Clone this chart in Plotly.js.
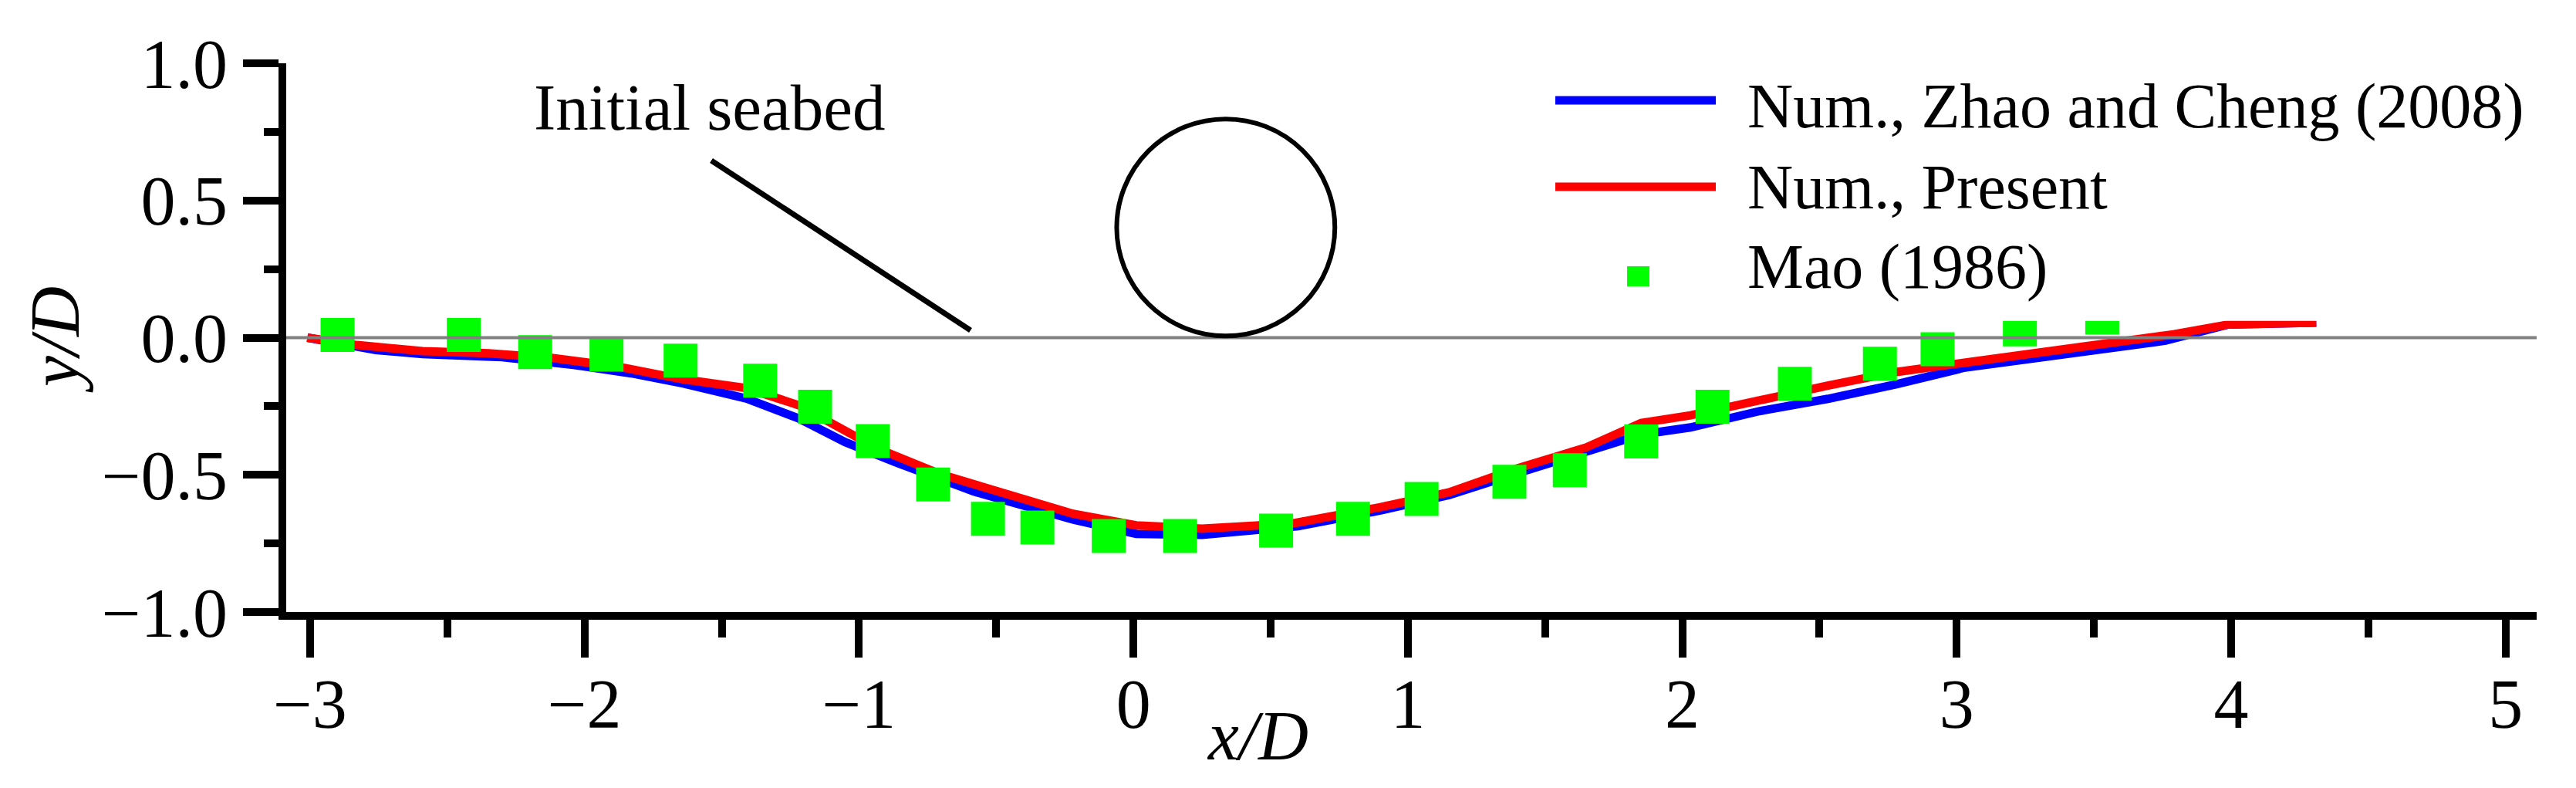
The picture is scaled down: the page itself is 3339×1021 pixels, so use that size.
<!DOCTYPE html>
<html>
<head>
<meta charset="utf-8">
<script src="https://cdn.plot.ly/plotly-3.0.1.min.js"></script>
<style>html,body{margin:0;padding:0;background:#fff;}#chart{width:3339px;height:1021px;}</style>
</head>
<body>
<div id="chart"></div>
<script>
// ---- data ----
const zhaoX = [-3.01, -2.76, -2.59, -2.30, -2.04, -1.83, -1.64, -1.41, -1.22, -1.05, -0.86, -0.58, -0.22, 0.01, 0.25, 0.60, 0.90, 1.15, 1.40, 1.65, 1.85, 2.03, 2.28, 2.53, 2.78, 3.03, 3.28, 3.54, 3.76, 3.99, 4.31];
const zhaoY = [0.0, -0.045, -0.060, -0.071, -0.099, -0.130, -0.167, -0.222, -0.294, -0.381, -0.457, -0.561, -0.663, -0.715, -0.719, -0.687, -0.630, -0.574, -0.494, -0.419, -0.353, -0.327, -0.268, -0.223, -0.170, -0.109, -0.074, -0.039, -0.011, 0.048, 0.055];

const presentX = [-3.01, -2.83, -2.59, -2.35, -2.12, -1.88, -1.64, -1.41, -1.22, -1.10, -0.93, -0.70, -0.46, -0.22, 0.01, 0.25, 0.58, 0.90, 1.15, 1.40, 1.65, 1.85, 2.03, 2.28, 2.53, 2.78, 3.03, 3.28, 3.54, 3.79, 3.99, 4.31];
const presentY = [0.0, -0.027, -0.049, -0.057, -0.074, -0.105, -0.152, -0.184, -0.246, -0.313, -0.405, -0.499, -0.574, -0.642, -0.684, -0.696, -0.677, -0.618, -0.564, -0.476, -0.400, -0.311, -0.283, -0.226, -0.175, -0.125, -0.091, -0.063, -0.025, 0.012, 0.048, 0.055];

const maoX = [-2.90, -2.44, -2.18, -1.92, -1.65, -1.36, -1.16, -0.95, -0.73, -0.53, -0.35, -0.09, 0.17, 0.52, 0.80, 1.05, 1.37, 1.59, 1.85, 2.11, 2.41, 2.72, 2.93, 3.23, 3.53];
const maoY = [0.010, 0.010, -0.053, -0.062, -0.084, -0.157, -0.252, -0.377, -0.535, -0.660, -0.692, -0.723, -0.723, -0.703, -0.660, -0.588, -0.525, -0.483, -0.378, -0.252, -0.168, -0.095, -0.042, 0.030, 0.073];

const seriesNames = ["Num., Zhao and Cheng (2008)", "Num., Present", "Mao (1986)"];
const xTickVals = [-3, -2, -1, 0, 1, 2, 3, 4, 5];
const yTickVals = [-1.0, -0.5, 0.0, 0.5, 1.0];

// ---- layout geometry ----
const W = 3339, H = 1021;
const M = {l: 371, r: 51, t: 82, b: 228};
const plotW = W - M.l - M.r, plotH = H - M.t - M.b;
const xRange = [-3.087, 5.113], yRange = [-1, 1];
const px2paper = px => (px - M.l) / plotW;
const py2paper = py => (H - M.b - py) / plotH;

const serif = "'Liberation Serif', 'Times New Roman', serif";

const traces = [
  {x: zhaoX, y: zhaoY, name: seriesNames[0], type: 'scatter', mode: 'lines',
   line: {color: '#0000ff', width: 11}, showlegend: false},
  {x: presentX, y: presentY, name: seriesNames[1], type: 'scatter', mode: 'lines',
   line: {color: '#ff0000', width: 11}, showlegend: false},
  {x: maoX, y: maoY, name: seriesNames[2], type: 'scatter', mode: 'markers',
   marker: {symbol: 'square', size: 44, color: '#00ff00', line: {width: 0}}, showlegend: false}
];

const shapes = [
  // initial seabed line
  {type: 'line', xref: 'paper', x0: 0, x1: 1, yref: 'y', y0: 0, y1: 0,
   line: {color: '#808080', width: 4}, layer: 'above'},
  // pipe
  {type: 'circle', xref: 'x', yref: 'y', x0: -0.061, x1: 0.734, y0: 0.006, y1: 0.797,
   line: {color: '#000000', width: 6}, layer: 'above'},
  // pointer line of "Initial seabed"
  {type: 'line', xref: 'paper', yref: 'paper',
   x0: px2paper(922), y0: py2paper(208), x1: px2paper(1258), y1: py2paper(428),
   line: {color: '#000000', width: 7}, layer: 'above'},
  // legend background
  {type: 'rect', xref: 'paper', yref: 'paper',
   x0: px2paper(1990), x1: px2paper(3330), y0: py2paper(415.7), y1: py2paper(40),
   fillcolor: '#ffffff', line: {width: 0}, layer: 'above'},
  // legend keys
  {type: 'line', xref: 'paper', yref: 'paper', x0: px2paper(2016), x1: px2paper(2224),
   y0: py2paper(130), y1: py2paper(130), line: {color: '#0000ff', width: 11}, layer: 'above'},
  {type: 'line', xref: 'paper', yref: 'paper', x0: px2paper(2016), x1: px2paper(2224),
   y0: py2paper(242), y1: py2paper(242), line: {color: '#ff0000', width: 11}, layer: 'above'},
  {type: 'rect', xref: 'paper', yref: 'paper', x0: px2paper(2109), x1: px2paper(2138),
   y0: py2paper(371), y1: py2paper(345), fillcolor: '#00ff00', line: {width: 0}, layer: 'above'}
];

const annFont = {family: serif, size: 82, color: '#000000'};
const annotations = [
  {text: seriesNames[0], xref: 'paper', yref: 'paper', x: px2paper(2263), y: py2paper(137.5),
   xanchor: 'left', yanchor: 'middle', showarrow: false, font: annFont},
  {text: seriesNames[1], xref: 'paper', yref: 'paper', x: px2paper(2263), y: py2paper(242.5),
   xanchor: 'left', yanchor: 'middle', showarrow: false, font: annFont},
  {text: seriesNames[2], xref: 'paper', yref: 'paper', x: px2paper(2263), y: py2paper(345.5),
   xanchor: 'left', yanchor: 'middle', showarrow: false, font: annFont},
  {text: 'Initial seabed', xref: 'paper', yref: 'paper', x: px2paper(920), y: py2paper(138.5),
   xanchor: 'center', yanchor: 'middle', showarrow: false, font: {family: serif, size: 85, color: '#000'}},
  {text: '<i>x/D</i>', xref: 'paper', yref: 'paper', x: px2paper(1630), y: py2paper(953),
   xanchor: 'center', yanchor: 'middle', showarrow: false, font: {family: serif, size: 90, color: '#000'}},
  {text: '<i>y/D</i>', xref: 'paper', yref: 'paper', x: px2paper(72), y: py2paper(440),
   xanchor: 'center', yanchor: 'middle', textangle: -90, showarrow: false,
   font: {family: serif, size: 90, color: '#000'}}
];

const layout = {
  width: W, height: H,
  margin: M,
  paper_bgcolor: '#ffffff', plot_bgcolor: '#ffffff',
  showlegend: false,
  xaxis: {
    range: xRange, tickvals: xTickVals, ticktext: xTickVals.map(v => v < 0 ? '\u2212' + Math.abs(v) : String(v)),
    showgrid: false, zeroline: false,
    showline: true, linecolor: '#000', linewidth: 10,
    ticks: 'outside', ticklen: 49, tickwidth: 10, tickcolor: '#000',
    minor: {dtick: 0.5, tick0: 0, ticks: 'outside', ticklen: 23, tickwidth: 10, tickcolor: '#000', showgrid: false},
    tickfont: {family: serif, size: 90, color: '#000'},
    ticklabelstandoff: -17
  },
  yaxis: {
    range: yRange, tickvals: yTickVals, ticktext: yTickVals.map(v => (v < 0 ? '\u2212' : '') + Math.abs(v).toFixed(1)),
    showgrid: false, zeroline: false,
    showline: true, linecolor: '#000', linewidth: 10,
    ticks: 'outside', ticklen: 46, tickwidth: 10, tickcolor: '#000',
    minor: {dtick: 0.25, tick0: 0, ticks: 'outside', ticklen: 19, tickwidth: 10, tickcolor: '#000', showgrid: false},
    tickfont: {family: serif, size: 90, color: '#000'},
    ticklabelstandoff: 2
  },
  shapes: shapes,
  annotations: annotations
};

Plotly.newPlot('chart', traces, layout, {staticPlot: true, displayModeBar: false});
</script>
</body>
</html>
